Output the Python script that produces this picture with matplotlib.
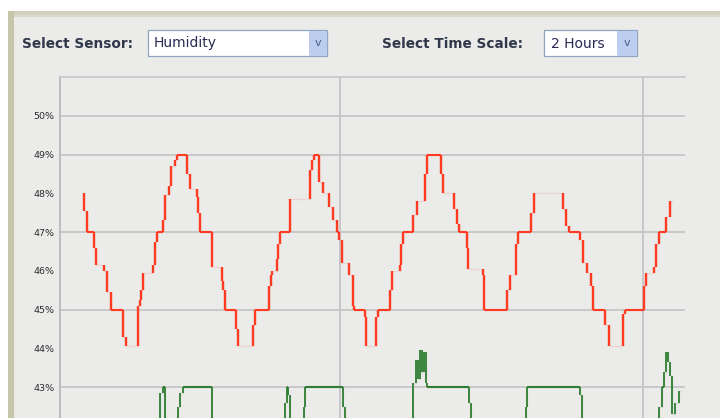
import numpy as np
import matplotlib
matplotlib.use("Agg")
import matplotlib.pyplot as plt
from matplotlib.patches import Rectangle

# ---------------- data ----------------
# time in minutes from the left edge of the chart, humidity in %
red_t = [4.4, 4.8, 5.3, 6.7, 7.1, 8.7, 9.3, 10.1, 12.5, 13.1, 15.4, 15.8, 16.0, 16.4,
         18.4, 18.8, 19.2, 20.4, 20.8, 21.6, 22.0, 22.8, 23.2, 25.1, 25.7, 27.1, 27.3,
         27.7, 30.1, 32.1, 32.3, 32.7, 34.8, 35.2, 38.2, 38.6, 41.4, 41.8, 42.0, 43.0,
         43.2, 43.6, 45.5, 49.5, 49.9, 50.3, 51.3, 52.1, 53.3, 54.1, 54.8, 55.2, 55.8,
         57.2, 58.0, 58.2, 60.4, 60.6, 62.6, 63.0, 65.3, 65.7, 67.3, 67.5, 67.9, 69.9,
         70.7, 72.3, 72.7, 75.4, 75.8, 78.0, 78.6, 79.0, 80.6, 80.8, 83.8, 84.0, 88.5,
         89.1, 90.3, 90.7, 93.3, 93.9, 99.6, 100.2, 100.8, 103.0, 103.6, 104.3, 105.1,
         105.5, 107.9, 108.7, 111.5, 111.9, 115.6, 116.0, 117.6, 118.0, 118.6, 120.0,
         120.8, 121.2]
red_v = [48.0, 47.55, 47.0, 46.6, 46.15, 46.0, 45.45, 45.0, 44.3, 44.05, 45.1, 45.25, 45.5, 45.95,
         46.15, 46.75, 47.0, 47.3, 47.95, 48.2, 48.7, 48.85, 49.0, 48.5, 48.1, 47.9, 47.5,
         47.0, 46.1, 45.75, 45.5, 45.0, 44.5, 44.05, 44.6, 45.0, 45.6, 45.9, 46.0, 46.3,
         46.7, 47.0, 47.85, 48.6, 48.85, 49.0, 48.3, 48.0, 47.65, 47.3, 47.0, 46.8, 46.2,
         45.9, 45.1, 45.0, 44.8, 44.05, 44.8, 45.0, 45.5, 46.0, 46.15, 46.7, 47.0, 47.45,
         47.8, 48.5, 49.0, 48.5, 48.0, 47.6, 47.2, 47.0, 46.6, 46.05, 45.9, 45.0, 45.5,
         45.9, 46.7, 47.0, 47.5, 48.0, 47.6, 47.15, 47.0, 46.8, 46.2, 45.95, 45.6,
         45.0, 44.6, 44.05, 44.9, 45.0, 45.6, 45.95, 46.1, 46.7, 47.0, 47.4,
         47.8, 47.8]

green_t = [4.4, 19.8, 20.4, 20.8, 23.4, 23.8, 24.4, 30.1, 44.6, 44.9, 45.1, 45.5, 48.3, 48.5,
           56.0, 56.4, 69.9, 70.5, 70.9, 71.3, 71.7, 72.1, 72.5, 72.7, 81.0, 81.4, 92.3,
           92.5, 103.0, 103.4, 118.6, 119.2, 119.6, 120.0, 120.4, 120.8, 121.2, 121.8,
           122.6, 123.0]
green_v = [41.6, 42.85, 43.0, 41.8, 42.5, 42.85, 43.0, 41.8, 42.6, 43.0, 42.8, 41.8, 42.5, 43.0,
           42.5, 41.8, 43.1, 43.7, 43.2, 43.95, 43.4, 43.9, 43.1, 43.0, 42.6, 41.8, 42.5,
           43.0, 42.8, 41.8, 42.5, 43.0, 43.4, 43.9, 43.65, 43.3, 42.3, 42.6,
           42.9, 42.9]

y_ticks = [43, 44, 45, 46, 47, 48, 49, 50]
y_tick_labels = ["43%", "44%", "45%", "46%", "47%", "48%", "49%", "50%"]
grid_levels = [43, 45, 47, 49, 50]
hour_marks = [55.4, 115.4]

sensor_label = "Select Sensor:"
sensor_value = "Humidity"
scale_label = "Select Time Scale:"
scale_value = "2 Hours"

# ---------------- figure ----------------
W, H = 720, 418
fig = plt.figure(figsize=(W / 100, H / 100), dpi=100, facecolor="white")


def rect(x0, y0, x1, y1, **kw):
    r = Rectangle((x0 / W, 1 - y1 / H), (x1 - x0) / W, (y1 - y0) / H,
                  transform=fig.transFigure, **kw)
    fig.add_artist(r)
    return r


def ftext(x, y, s, **kw):
    fig.text(x / W, 1 - y / H, s, **kw)


PANEL = "#ebebea"
rect(8, 11, W, H, facecolor=PANEL, edgecolor="none", zorder=-5)
rect(8, 11, W, 17, facecolor="#d8d8c8", edgecolor="none", zorder=-4)
rect(8, 11, W, 14, facecolor="#cfcfbb", edgecolor="none", zorder=-4)
rect(8, 11, 14, H, facecolor="#c6c6aa", edgecolor="none", zorder=-3)

# header controls
label_kw = dict(fontsize=9.8, color="#30384a", va="center", ha="left",
                family="DejaVu Sans", fontweight="bold")
ftext(22, 43.5, sensor_label, **label_kw)
rect(148, 30, 327, 56, facecolor="white", edgecolor="#8fa6c0", lw=0.9, zorder=2)
rect(309, 31, 326.5, 55.5, facecolor="#bccdf0", edgecolor="none", zorder=3)
ftext(317.5, 43, "v", fontsize=8, color="#4a5f8a", ha="center", va="center", zorder=4)
ftext(154, 43.5, sensor_value, fontsize=10, color="#2a2a55", ha="left", va="center", zorder=4)

ftext(382, 43.5, scale_label, **label_kw)
rect(544, 30, 637, 56, facecolor="white", edgecolor="#8fa6c0", lw=0.9, zorder=2)
rect(617, 31, 636.5, 55.5, facecolor="#bccdf0", edgecolor="none", zorder=3)
ftext(626.5, 43, "v", fontsize=8, color="#4a5f8a", ha="center", va="center", zorder=4)
ftext(551, 43.5, scale_value, fontsize=10, color="#2a2a55", ha="left", va="center", zorder=4)

# ---------------- axes ----------------
y_top_px, y43_px, px_per_pct = 77, 387, 38.86
ymin, ymax = 41.0, 51.0
ax_top = 1 - y_top_px / H
ax_bot = 1 - (y43_px + (43 - ymin) * px_per_pct) / H
x_left, x_right = 60, 685
ax = fig.add_axes([x_left / W, ax_bot, (x_right - x_left) / W, ax_top - ax_bot])
ax.set_facecolor("none")
ax.set_xlim(0, (x_right - x_left) * 60 / 303)
ax.set_ylim(ymin, ymax)

for s in ("right", "bottom"):
    ax.spines[s].set_visible(False)
ax.spines["left"].set_color("#b4b4b4")
ax.spines["left"].set_linewidth(1.2)
ax.spines["top"].set_color("#c6c6c6")
ax.spines["top"].set_linewidth(1.2)

for g in grid_levels:
    ax.axhline(g, color="#c6c6c6", lw=1.3, zorder=1)
for h in hour_marks:
    ax.axvline(h, color="#c2c2c2", lw=1.2, zorder=1)

ax.set_xticks([])
ax.set_yticks(y_ticks)
ax.set_yticklabels(y_tick_labels)
ax.tick_params(axis="y", length=0, pad=4, labelsize=6.8, labelcolor="#2c2c2c")


def draw_series(t, v, color, strong_levels, vlw=1.7):
    t = np.asarray(t, float)
    v = np.asarray(v, float)
    # faint horizontal stairs
    ax.step(t, v, where="post", color=color, lw=1.0, alpha=0.12, zorder=3)
    # vertical transitions
    ax.vlines(t[1:], v[:-1], v[1:], color=color, lw=vlw, zorder=4)
    # flats lying on grid levels are clearly visible
    t_next = np.append(t[1:], t[-1])
    mask = np.isin(np.round(v, 2), strong_levels)
    ax.hlines(v[mask], t[mask], t_next[mask], color=color, lw=1.5, zorder=4)


draw_series(red_t, red_v, "#ff3b22", grid_levels)
draw_series(green_t, green_v, "#2f7d33", grid_levels, vlw=1.3)

fig.savefig("out.png", dpi=100, facecolor="white")
